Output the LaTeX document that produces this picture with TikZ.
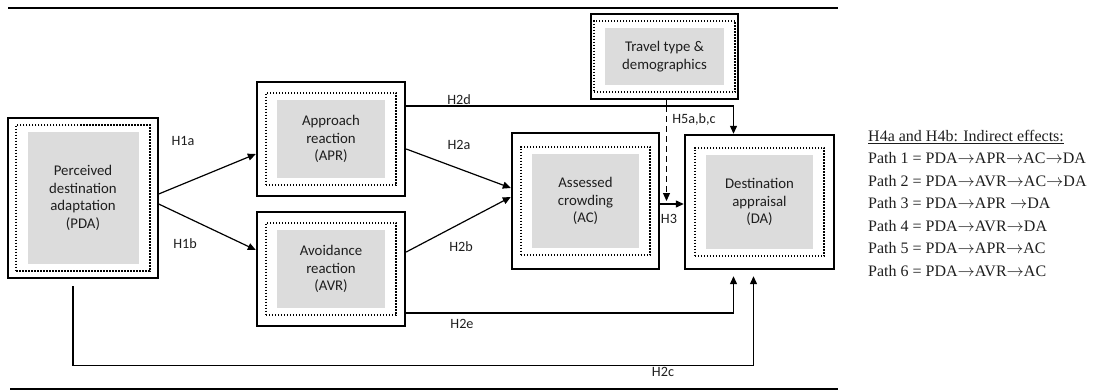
\documentclass[tikz,border=0pt]{standalone}
\usepackage{fontspec}
\setsansfont{Carlito}
\newfontfamily\legendfont{Liberation Serif}
\usetikzlibrary{positioning,fit,arrows.meta}
\definecolor{boxgray}{RGB}{220,220,220}
\definecolor{ink}{RGB}{30,30,30}
\newcommand{\pathto}{\(\rightarrow\)}
\tikzset{var/.style={fill=boxgray,inner sep=0pt,align=center,text=ink,font=\sffamily\fontsize{14.8}{17.7}\selectfont},
  frame/.style={draw,line width=2pt,inner sep=0pt},
  dotframe/.style={draw,line width=2pt,dash pattern=on 1.5pt off 1.5pt,inner xsep=11pt,inner ysep=7pt},
  link/.style={draw,line width=1.2pt,-{Triangle[length=8pt,width=7pt]}},
  hyp/.style={font=\sffamily\fontsize{14.2}{16}\selectfont,text=ink,inner sep=0pt}}

\begin{document}
\begin{tikzpicture}[x=1pt,y=-1pt]
\useasboundingbox (0,0) rectangle (1113,391);
\draw[line width=2pt] (8,8) -- (838,8);
\draw[line width=2pt] (10,389) -- (838,389);

% variables
\node[var,minimum width=111pt,minimum height=132pt] (pda-in) at (83,198) {Perceived\\destination\\adaptation\\(PDA)};
\node[var,minimum width=108pt,minimum height=78pt] (apr-in) at (331,139) {Approach\\reaction\\(APR)};
\node[var,minimum width=108pt,minimum height=78pt] (avr-in) at (331,269) {Avoidance\\reaction\\(AVR)};
\node[var,minimum width=107pt,minimum height=94pt] (ac-in) at (585.5,201) {Assessed\\crowding\\(AC)};
\node[var,minimum width=107pt,minimum height=94pt] (da-in) at (759.5,202) {Destination\\appraisal\\(DA)};
\node[var,minimum width=119pt,minimum height=57pt] (tt-in) at (664.5,56.5) {Travel type \&\\demographics};
\foreach \n/\sx/\sy in {pda/19/14,apr/20/18,avr/20/18,ac/20/21,da/21/20,tt/14/14}{
  \node[dotframe,fit=(\n-in)] {};
  \node[frame,fit=(\n-in),inner xsep=\sx pt,inner ysep=\sy pt] (\n) {};
}

% paths
\coordinate (h2d) at ([yshift=33pt]apr.east);
\coordinate (h3) at ([yshift=-3pt]ac.east);
\coordinate (tt-b) at ([xshift=2pt]tt.south);
\coordinate (h5) at (tt-b |- h3);
\draw[link] ([yshift=4pt]pda.east) -- ([yshift=-15pt]apr.west);
\draw[link] ([yshift=-6pt]pda.east) -- ([yshift=19pt]avr.west);
\draw[link] ([yshift=-10pt]apr.east) -- ([yshift=13pt]ac.west);
\draw[link] ([yshift=17pt]avr.east) -- ([yshift=4pt]ac.west);
\draw[link] (h2d) -| ([xshift=-26pt]da.north);
\draw[line width=1.2pt] (tt-b) -- (tt-b |- h2d);
\draw[link,dash pattern=on 6pt off 4pt] (tt-b |- h2d) -- ([yshift=3pt]h5);
\draw[link] (h3) -- (h3 -| da.west);
\draw[link] ([yshift=-44pt]avr.east) -| ([xshift=-26pt,yshift=-6pt]da.south);
\draw[link] ([xshift=-10pt,yshift=-7pt]pda.south) -- ++(0,79) -| ([xshift=-6pt,yshift=-6pt]da.south);

% labels
\node[hyp] (l-h1a) at (183,141) {H1a};
\node[hyp] (l-h1b) at (185,244) {H1b};
\node[hyp] (l-h2d) at (459,100) {H2d};
\node[hyp] (l-h2a) at (459,145) {H2a};
\node[hyp] (l-h2b) at (461,247) {H2b};
\node[hyp] (l-h2e) at (462,324) {H2e};
\node[hyp] (l-h2c) at (663,372) {H2c};
\node[hyp] (l-h3) at (669,219) {H3};
\node[hyp] (l-h5) at (694,119) {H5a,b,c};

\node[anchor=north west,inner sep=0pt,align=left,text=ink,font=\legendfont\fontsize{16}{22.5}\selectfont] (paths) at (868,130)
  {\underline{H4a and H4b: Indirect effects:}\\
   Path 1 = PDA\pathto APR\pathto AC\pathto DA\\
   Path 2 = PDA\pathto AVR\pathto AC\pathto DA\\
   Path 3 = PDA\pathto APR \pathto DA\\
   Path 4 = PDA\pathto AVR\pathto DA\\
   Path 5 = PDA\pathto APR\pathto AC\\
   Path 6 = PDA\pathto AVR\pathto AC};
\end{tikzpicture}
\end{document}
